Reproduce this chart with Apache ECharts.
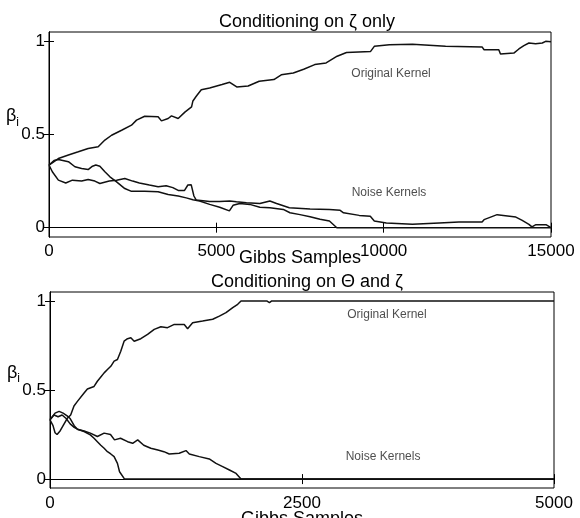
<!DOCTYPE html>
<html lang="en">
<head>
    <meta charset="UTF-8">
    <title>Gibbs samples</title>
</head>
<script type="text/javascript" src="https://cdn.jsdelivr.net/npm/echarts@6/dist/echarts.min.js"></script>
<body style="margin:0;background:#fff">
<div id="chart" style="width:580px;height:518px"></div>
</body>
<script type="text/javascript">
    // panel titles and axes
    var titles = ['Conditioning on ζ only', 'Conditioning on Θ and ζ'];
    var xMax = [15000, 5000];
    var xStep = [5000, 2500];
    var yTicks = [0, 0.5, 1];

    // top panel: [sample, beta]
    var topOriginal = [[0,0.336],[280,0.371],[580,0.39],[875,0.407],[1170,0.425],[1470,0.434],[1670,0.47],[1870,0.496],
        [2170,0.523],[2465,0.55],[2615,0.577],[2860,0.598],[3260,0.595],[3360,0.573],[3560,0.586],[3660,0.6],[3860,0.586],
        [4060,0.62],[4260,0.648],[4300,0.68],[4400,0.705],[4550,0.74],[4800,0.75],[5170,0.768],[5400,0.78],[5610,0.755],
        [5950,0.76],[6280,0.786],[6720,0.795],[6940,0.82],[7300,0.83],[7610,0.85],[7940,0.875],[8280,0.884],[8610,0.92],
        [8890,0.94],[9610,0.946],[9720,0.973],[10170,0.982],[10860,0.984],[11850,0.973],[12940,0.97],[13000,0.955],
        [13440,0.955],[13490,0.932],[13890,0.937],[14040,0.959],[14190,0.977],[14340,0.991],[14540,0.987],[14740,0.991],
        [14840,1.0],[15000,0.998]];
    var topNoiseA = [[0,0.336],[150,0.36],[280,0.366],[580,0.354],[775,0.327],[975,0.318],[1170,0.312],[1300,0.33],
        [1400,0.336],[1520,0.33],[1670,0.3],[1820,0.273],[2020,0.246],[2265,0.21],[2465,0.195],[2860,0.195],[3260,0.193],
        [3560,0.178],[3860,0.17],[4100,0.16],[4300,0.15],[4500,0.143],[4800,0.125],[5100,0.11],[5390,0.09],[5500,0.12],
        [5700,0.13],[6000,0.125],[6300,0.11],[6600,0.107],[7000,0.098],[7200,0.08],[7500,0.07],[7800,0.059],[8100,0.045],
        [8380,0.036],[8600,0],[15000,0]];
    var topNoiseB = [[0,0.336],[100,0.3],[280,0.255],[500,0.24],[700,0.255],[975,0.25],[1170,0.259],[1370,0.25],
        [1520,0.237],[1800,0.25],[2020,0.255],[2265,0.264],[2500,0.25],[2700,0.24],[3000,0.229],[3260,0.22],[3500,0.225],
        [3700,0.215],[3860,0.2],[4050,0.2],[4150,0.229],[4250,0.23],[4330,0.17],[4400,0.148],[4800,0.14],[5100,0.14],
        [5400,0.143],[5600,0.139],[5900,0.134],[6300,0.13],[6600,0.143],[6800,0.13],[7180,0.107],[7800,0.1],[8380,0.098],
        [8700,0.093],[8800,0.08],[9270,0.066],[9600,0.061],[9650,0.071],[9720,0.036],[10080,0.025],[10860,0.018],
        [11660,0.025],[12250,0.03],[12940,0.03],[13000,0.043],[13390,0.07],[13950,0.057],[14140,0.039],[14340,0.018],
        [14430,0.004],[14550,0.016],[14850,0.016],[15000,0]];

    // bottom panel: [sample, beta]
    var botOriginal = [[0,0.333],[30,0.3],[50,0.26],[70,0.25],[100,0.27],[130,0.3],[170,0.34],[205,0.36],[238,0.41],
        [272,0.436],[338,0.483],[371,0.506],[437,0.52],[470,0.549],[504,0.573],[537,0.596],[570,0.615],[603,0.633],
        [636,0.662],[669,0.671],[702,0.718],[735,0.774],[769,0.788],[802,0.793],[835,0.774],[901,0.788],[968,0.812],
        [1034,0.84],[1100,0.855],[1166,0.85],[1233,0.868],[1249,0.86],[1332,0.868],[1365,0.844],[1415,0.878],[1514,0.887],
        [1614,0.897],[1680,0.915],[1746,0.934],[1813,0.962],[1862,0.981],[1895,1.0],[2150,1.0],[2177,0.99],[2200,1.0],
        [5000,1.0]];
    var botNoiseA = [[0,0.333],[50,0.37],[90,0.38],[130,0.37],[170,0.355],[200,0.34],[240,0.3],[272,0.28],[338,0.267],
        [400,0.248],[437,0.229],[470,0.21],[504,0.19],[537,0.173],[570,0.154],[603,0.141],[636,0.126],[669,0.088],
        [690,0.041],[740,0],[5000,0]];
    var botNoiseB = [[0,0.333],[40,0.36],[80,0.35],[120,0.36],[160,0.34],[200,0.31],[240,0.29],[272,0.28],[338,0.27],
        [400,0.258],[470,0.239],[537,0.258],[600,0.25],[640,0.22],[700,0.229],[770,0.21],[820,0.201],[870,0.22],
        [930,0.19],[1000,0.173],[1070,0.163],[1130,0.154],[1183,0.141],[1282,0.145],[1349,0.16],[1382,0.141],
        [1481,0.126],[1580,0.113],[1647,0.088],[1713,0.07],[1780,0.051],[1846,0.032],[1895,0],[2170,0],[2177,0.008],
        [2190,0],[5000,0]];

    // text notes inside the panels: [label, sample, beta]
    var topNotes = [['Original Kernel', 10220, 0.827], ['Noise Kernels', 10160, 0.19]];
    var botNotes = [['Original Kernel', 3343, 0.925], ['Noise Kernels', 3304, 0.124]];

    var font = 'Liberation Sans, Arial, Helvetica, sans-serif';
    var chart = echarts.init(document.getElementById('chart'));

    var grids = [
        {left: 49, right: 29, top: 32, height: 205},
        {left: 50, right: 26, top: 292, height: 196}
    ];
    var nameGaps = [12, 22];
    var labelMargins = [6, 7];
    var betaShift = [36, 34];

    var xAxes = [], yAxes = [], series = [];
    grids.forEach(function (g, i) {
        g.show = true;
        g.borderColor = '#000';
        g.borderWidth = 1;
        g.backgroundColor = '#fff';
        g.outerBoundsMode = 'none';
        g.containLabel = false;
        [0, 1].forEach(function (mirror) {
            xAxes.push({
                type: 'value', gridIndex: i, min: 0, max: xMax[i], interval: xStep[i],
                position: mirror ? 'top' : 'bottom',
                name: mirror ? '' : 'Gibbs Samples', nameLocation: 'middle', nameGap: nameGaps[i],
                nameMoveOverlap: false,
                nameTextStyle: {fontFamily: font, fontSize: 18, color: '#000'},
                axisLine: {show: true, lineStyle: {color: '#000', width: 1}},
                axisTick: {show: true, inside: true, length: 5, lineStyle: {color: '#000'}},
                axisLabel: {show: !mirror, fontFamily: font, fontSize: 17, color: '#000', margin: labelMargins[i],
                    formatter: function (v) { return String(v); }},
                splitLine: {show: false}
            });
            yAxes.push({
                type: 'value', gridIndex: i, min: -0.05, max: 1.05,
                position: mirror ? 'right' : 'left',
                name: mirror ? '' : '{b|β}{s|i}', nameLocation: 'middle', nameRotate: 0, nameGap: 30,
                nameMoveOverlap: false,
                nameTextStyle: {
                    padding: [0, 0, betaShift[i], 0],
                    rich: {
                        b: {fontFamily: font, fontSize: 18, color: '#000'},
                        s: {fontFamily: font, fontSize: 12, color: '#000', padding: [12, 0, 0, 0]}
                    }
                },
                axisLine: {show: true, lineStyle: {color: '#000', width: 1}},
                axisTick: {show: true, inside: true, length: 5, customValues: yTicks, lineStyle: {color: '#000'}},
                axisLabel: {show: !mirror, customValues: yTicks, fontFamily: font, fontSize: 17, color: '#000', margin: 4,
                    formatter: function (v) { return String(v); }},
                splitLine: {show: false}
            });
        });
    });

    function line(data, i) {
        return {
            type: 'line', xAxisIndex: i * 2, yAxisIndex: i * 2, data: data,
            showSymbol: false, silent: true,
            lineStyle: {color: '#111', width: 1.5}
        };
    }
    function notes(list, i) {
        return {
            type: 'scatter', xAxisIndex: i * 2, yAxisIndex: i * 2, symbolSize: 0, silent: true,
            data: list.map(function (n) { return {name: n[0], value: [n[1], n[2]]}; }),
            label: {show: true, position: 'inside', formatter: '{b}', fontFamily: font, fontSize: 12, color: '#222'}
        };
    }
    series.push(line(topOriginal, 0), line(topNoiseA, 0), line(topNoiseB, 0), notes(topNotes, 0));
    series.push(line(botOriginal, 1), line(botNoiseA, 1), line(botNoiseB, 1), notes(botNotes, 1));

    chart.setOption({
        backgroundColor: '#fff',
        animation: false,
        title: [
            {text: titles[0], left: 302, top: 8, textAlign: 'center',
                textStyle: {fontFamily: font, fontSize: 18, fontWeight: 'normal', color: '#000'}},
            {text: titles[1], left: 302, top: 268, textAlign: 'center',
                textStyle: {fontFamily: font, fontSize: 18, fontWeight: 'normal', color: '#000'}}
        ],
        grid: grids,
        xAxis: xAxes,
        yAxis: yAxes,
        series: series
    });
</script>
</html>
